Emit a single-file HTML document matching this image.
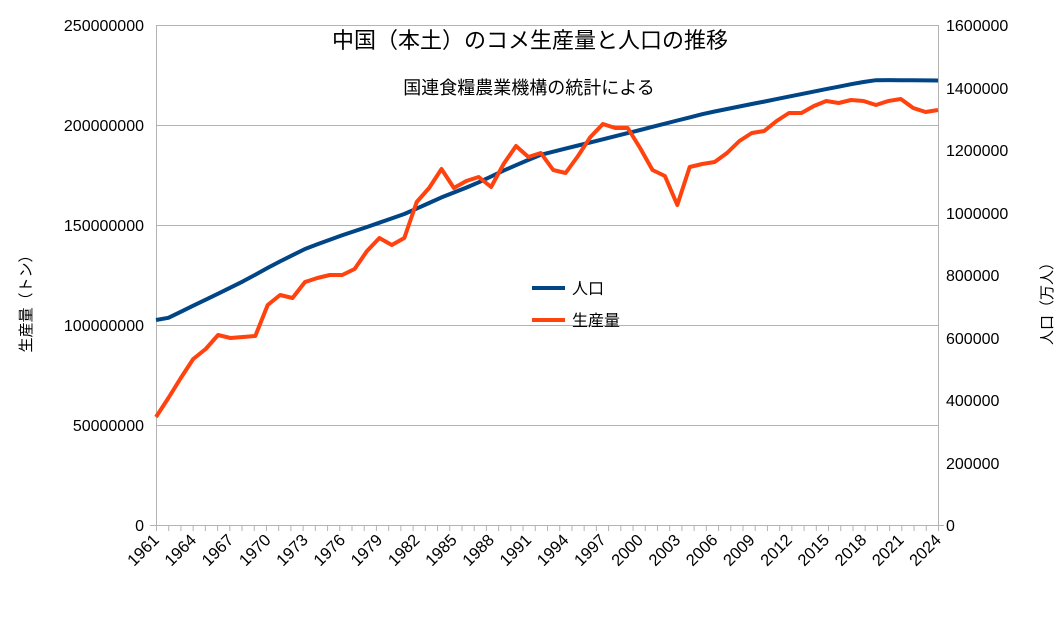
<!DOCTYPE html>
<html><head><meta charset="utf-8"><style>
body{margin:0;background:#fff;}
text{font-family:"Liberation Sans","Noto Sans CJK JP",sans-serif;fill:#000;}
</style></head><body>
<svg id="s" width="1059" height="613" xmlns="http://www.w3.org/2000/svg">
<g stroke="#b3b3b3" stroke-width="1">
<line x1="156" y1="25.5" x2="938" y2="25.5"/>
<line x1="156" y1="125.5" x2="938" y2="125.5"/>
<line x1="156" y1="225.5" x2="938" y2="225.5"/>
<line x1="156" y1="325.5" x2="938" y2="325.5"/>
<line x1="156" y1="425.5" x2="938" y2="425.5"/>
<line x1="150" y1="525.5" x2="944" y2="525.5"/>
<line x1="156.5" y1="25" x2="156.5" y2="531"/>
<line x1="938.5" y1="25" x2="938.5" y2="531"/>
</g>
<g id="ticks" stroke="#b3b3b3"></g>
<g font-size="16" text-anchor="end">
<text x="144" y="31">250000000</text>
<text x="144" y="131">200000000</text>
<text x="144" y="231">150000000</text>
<text x="144" y="331">100000000</text>
<text x="144" y="431">50000000</text>
<text x="144" y="531">0</text>
</g>
<g font-size="16">
<text x="946" y="31">1600000</text>
<text x="946" y="94">1400000</text>
<text x="946" y="156">1200000</text>
<text x="946" y="219">1000000</text>
<text x="946" y="281">800000</text>
<text x="946" y="344">600000</text>
<text x="946" y="406">400000</text>
<text x="946" y="469">200000</text>
<text x="946" y="531">0</text>
</g>
<g id="xl" font-size="16.5" text-anchor="end"></g>
<text x="530" y="48" font-size="22" text-anchor="middle">中国（本土）のコメ生産量と人口の推移</text>
<text x="529" y="94" font-size="18" text-anchor="middle">国連食糧農業機構の統計による</text>
<text transform="translate(31,300) rotate(-90)" font-size="15" text-anchor="middle">生産量（トン）</text>
<text transform="translate(1052,300) rotate(-90)" font-size="15" text-anchor="middle">人口（万人）</text>
<polyline id="pop" fill="none" stroke="#004586" stroke-width="4" stroke-linejoin="round"/>
<polyline id="rice" fill="none" stroke="#ff420e" stroke-width="4" stroke-linejoin="round"/>
<line x1="532" y1="288" x2="565" y2="288" stroke="#004586" stroke-width="4"/>
<text x="572" y="294" font-size="16">人口</text>
<line x1="532" y1="320" x2="565" y2="320" stroke="#ff420e" stroke-width="4"/>
<text x="572" y="326" font-size="16">生産量</text>
</svg>
<script>
var r=[417,398,378,359,349,335,338,337,336,305,295,298,282,278,275,275,269,251,238,245,238,202,188,169,188,181,177,187,164,146,157,153,170,173,156,137,124,128,128,148,170,176,205,167,164,162,153,141,133,131,121,113,113,106,101,103,100,101,105,101,99,108,112,110];
var raw=[[157,320],[168,318],[240,283],[273,265],[307,248],[340,236],[373,225],[407,213],[440,198],[473,185],[507,169],[540,155],[640,130],[707,113],[807,93],[857,83],[877,80],[927,80.5]];
function X(i){return 156+i*782/63;}
var pk=raw.map(function(p){return [(p[0]-156)/(782/63),p[1]];});
pk[0][0]=0;pk[pk.length-1][0]=63;
document.getElementById("rice").setAttribute("points",r.map(function(y,i){return X(i).toFixed(1)+","+y;}).join(" "));
var pp=[];
for(var i=0;i<64;i++){for(var k=0;k<pk.length-1;k++){if(i>=pk[k][0]&&i<=pk[k+1][0]){var t=(i-pk[k][0])/(pk[k+1][0]-pk[k][0]);pp.push(X(i).toFixed(1)+","+(pk[k][1]+t*(pk[k+1][1]-pk[k][1])).toFixed(1));break;}}}
document.getElementById("pop").setAttribute("points",pp.join(" "));
var tg=document.getElementById("ticks"),xl=document.getElementById("xl"),ns="http://www.w3.org/2000/svg";
for(var j=0;j<=64;j++){var x=156.5+j*782/64;var l=document.createElementNS(ns,"line");l.setAttribute("x1",x);l.setAttribute("x2",x);l.setAttribute("y1",525);l.setAttribute("y2",531);tg.appendChild(l);}
for(var y=1961;y<=2024;y+=3){var i=y-1961;var x=X(i)+4;var t=document.createElementNS(ns,"text");t.setAttribute("transform","translate("+x+",541) rotate(-45)");t.textContent=y;xl.appendChild(t);}
</script>
</body></html>
